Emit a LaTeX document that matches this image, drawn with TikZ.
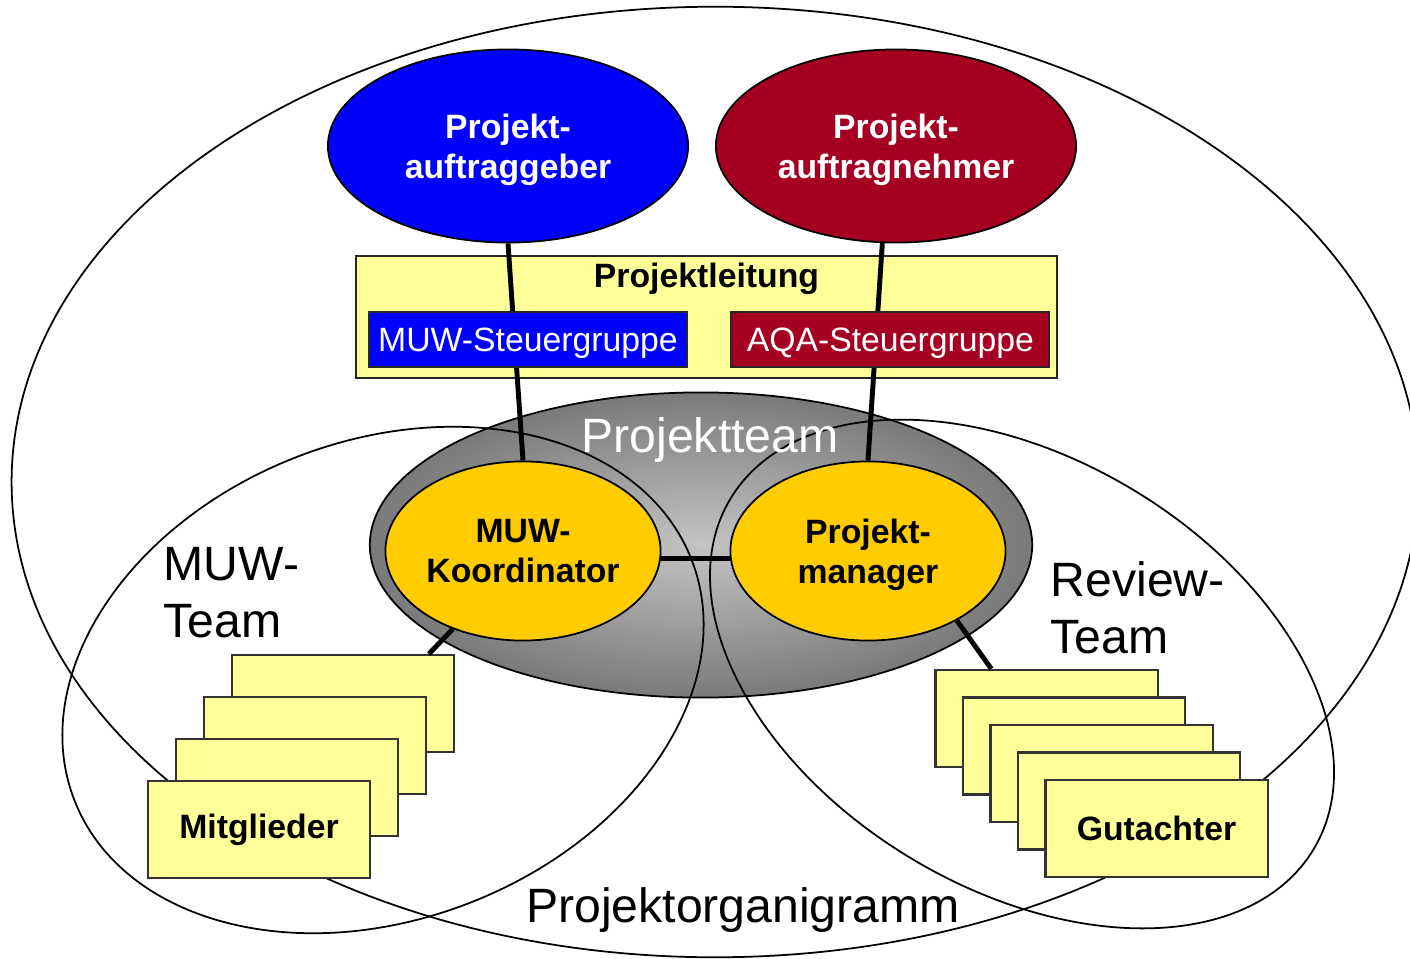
\documentclass[tikz,border=0pt]{standalone}
\usepackage{fontspec}
\setmainfont{Liberation Sans}
\usetikzlibrary{shapes.geometric,positioning,calc}
\definecolor{MUWBlau}{RGB}{0,0,255}
\definecolor{AQARot}{RGB}{165,0,33}
\definecolor{KernGold}{RGB}{255,204,0}
\definecolor{LeitGelb}{RGB}{255,255,153}
\definecolor{GrauHell}{RGB}{196,196,196}
\definecolor{GrauDunkel}{RGB}{122,122,122}
\newcommand{\grossschrift}{\fontsize{13.7}{16.2}\selectfont}
\newcommand{\normschrift}{\fontsize{9.6}{11.3}\selectfont}
\tikzset{
  linie/.style={draw=black, line width=0.5pt},
  auftragoval/.style={ellipse, draw=black, line width=0.5pt, fill=#1, text=white,
    minimum width=3.6cm, minimum height=1.93cm, inner sep=0pt, text depth=0pt,
    align=center, font=\normschrift\bfseries},
  kernoval/.style={ellipse, draw=black, line width=0.5pt, fill=KernGold,
    minimum width=2.75cm, minimum height=1.79cm, inner sep=0pt, text depth=0pt,
    align=center, font=\normschrift\bfseries},
  teamoval/.style={ellipse, draw=black, line width=0.5pt, shading=radial,
    inner color=GrauHell, outer color=GrauDunkel, minimum width=6.62cm, minimum height=3.05cm},
  % ---- Kaesten der Projektleitung und der Teams ----
  leitbox/.style={draw=black!85, line width=0.6pt, fill=LeitGelb,
    minimum width=7.01cm, minimum height=1.22cm, inner sep=0pt},
  steuerbox/.style={draw=black!85, line width=0.6pt, fill=#1, text=white, font=\normschrift,
    minimum width=3.18cm, minimum height=0.55cm, inner sep=0pt, text depth=0pt},
  stapelbox/.style={draw=black!80, line width=0.6pt, fill=LeitGelb, font=\normschrift\bfseries,
    minimum width=2.22cm, minimum height=0.97cm, inner sep=0pt},
  verbinder/.style={draw=black, line width=1.4pt},
  grosstext/.style={font=\grossschrift, inner sep=0pt, align=left},
}
\begin{document}
\begin{tikzpicture}[x=0.01cm, y=-0.01cm]
  \useasboundingbox (0,0) rectangle (1410,958);
  \clip (0,0) rectangle (1410,958);
  \draw[linie] (715,482) ellipse [x radius=7.03cm, y radius=4.75cm];

  \node[teamoval] (team) at (701,545) {};
  \draw[linie, rotate around={21.3:(383,680)}] (383,680) ellipse [x radius=3.31cm, y radius=2.39cm];
  \draw[linie, rotate around={-31:(1022,674)}] (1022,674) ellipse [x radius=3.40cm, y radius=2.15cm];
  \node[grosstext, text=white, anchor=base] (teamtext) at (710,452) {Projektteam};

  \node[kernoval] (koord) at (523,551) {MUW-\\Koordinator};
  \node[kernoval, right=0.68cm of koord] (pm) {Projekt-\\manager};

  \node[auftragoval=MUWBlau] (geber) at (508,146) {Projekt-\\auftraggeber};
  \node[auftragoval=AQARot, right=0.26cm of geber] (nehmer) {Projekt-\\auftragnehmer};

  \node[leitbox] (leitung) at (706.5,317) {};
  \node[font=\normschrift\bfseries, anchor=north, inner sep=0pt] (leittext)
    at ([yshift=-0.07cm]leitung.north) {Projektleitung};

  \draw[verbinder] (geber.south) -- (koord.north);
  \draw[verbinder] (nehmer.262) -- (pm.north);
  \draw[verbinder] (koord.-3) -- (pm.183);

  \node[steuerbox=MUWBlau] (muwsteuer) at (528,339.5) {MUW-Steuergruppe};
  \node[steuerbox=AQARot, right=0.42cm of muwsteuer] (aqasteuer) {AQA-Steuergruppe};

  \foreach \i in {3,2,1}
    \node[stapelbox] (mit\i) at (259+28*\i, 829.5-42*\i) {};
  \node[stapelbox] (mit0) at (259,829.5) {Mitglieder};
  \foreach \i in {4,3,2,1}
    \node[stapelbox] (gut\i) at (1156.5-27.5*\i, 828.5-27.5*\i) {};
  \node[stapelbox] (gut0) at (1156.5,828.5) {Gutachter};

  \coordinate (mitziel) at ($(mit3.north west)+(198,0)$);
  \coordinate (gutziel) at ($(gut4.north west)+(57,0)$);
  \draw[verbinder] (koord.228) -- (mitziel);
  \draw[verbinder] (pm.-38) -- (gutziel);

  \node[grosstext, anchor=north west] (muwteam) at (163,547) {MUW-\\Team};
  \node[grosstext, anchor=north west] (reviewteam) at (1050,561) {Review-\\Team};
  \node[grosstext, anchor=base] (organigramm) at (743,922) {Projektorganigramm};
\end{tikzpicture}
\end{document}
